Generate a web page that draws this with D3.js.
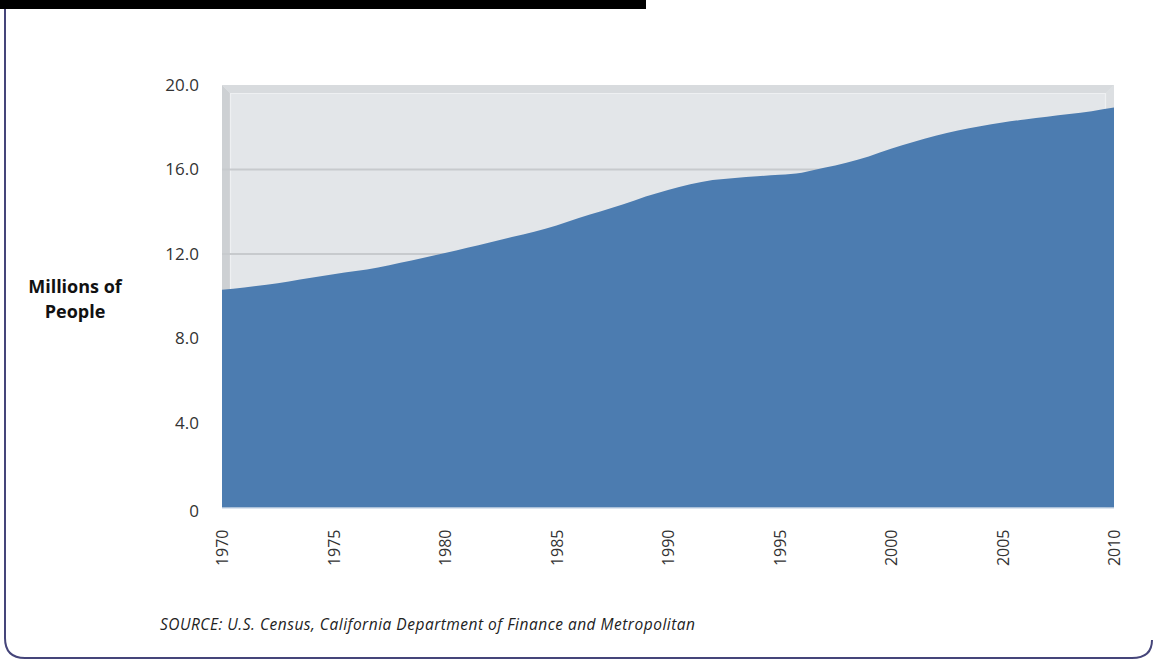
<!DOCTYPE html>
<html>
<head>
<meta charset="utf-8">
<script src="https://cdn.jsdelivr.net/npm/d3@7/dist/d3.min.js"></script>
<style>
  html, body { margin: 0; padding: 0; background: #ffffff; }
  svg { display: block; }
</style>
</head>
<body>
<svg id="chart" width="1154" height="660"></svg>
<script>
// ---- data ----
const years = [1970,1971,1972,1973,1974,1975,1976,1977,1978,1979,1980,1981,1982,1983,1984,1985,1986,1987,1988,1989,1990,1991,1992,1993,1994,1995,1996,1997,1998,1999,2000,2001,2002,2003,2004,2005,2006,2007,2008,2009,2010];
const population = [10.31,10.42,10.55,10.70,10.87,11.04,11.19,11.36,11.58,11.81,12.05,12.30,12.55,12.80,13.05,13.35,13.70,14.02,14.35,14.72,15.03,15.30,15.50,15.60,15.68,15.75,15.85,16.08,16.32,16.62,16.98,17.30,17.60,17.85,18.05,18.22,18.37,18.50,18.63,18.76,18.93];
const yTicks = [0, 4, 8, 12, 16, 20];
const yTickLabels = ["0", "4.0", "8.0", "12.0", "16.0", "20.0"];
const xTicks = [1970, 1975, 1980, 1985, 1990, 1995, 2000, 2005, 2010];
const yAxisTitle = ["Millions of", "People"];
const sourceText = "SOURCE: U.S. Census, California Department of Finance and Metropolitan";

const svg = d3.select("#chart");
const font = "'Open Sans', 'DejaVu Sans', sans-serif";

// page decoration
svg.append("rect").attr("x", 0).attr("y", 0).attr("width", 646).attr("height", 9).attr("fill", "#000");
svg.append("path")
  .attr("d", "M5,9 V638 Q5,658 25,658 H1132 Q1152,658 1152,640")
  .attr("fill", "none").attr("stroke", "#45457a").attr("stroke-width", 2);

const x = d3.scaleLinear().domain([1970, 2010]).range([222, 1114]);
const y = d3.scaleLinear().domain([0, 20]).range([507.5, 85]);

const L = x(1970), R = x(2010), T = y(20), B = y(0);
const d = 8.5;

// plot background with beveled frame
svg.append("rect").attr("x", L).attr("y", T).attr("width", R - L).attr("height", B - T).attr("fill", "#e3e6e9");
svg.append("path").attr("d", `M${L},${T} L${L+d},${T+d} L${L+d},${B} L${L},${B} Z`).attr("fill", "#cdd0d3");
svg.append("path").attr("d", `M${L},${T} L${R},${T} L${R-d},${T+d} L${L+d},${T+d} Z`).attr("fill", "#d8dbde");
svg.append("path").attr("d", `M${R},${T} L${R},${B} L${R-d},${B} L${R-d},${T+d} Z`).attr("fill", "#dcdfe2");
svg.append("path").attr("d", `M${L+d},${B} V${T+d} H${R-d} V${B}`).attr("fill", "none").attr("stroke", "#eef0f2").attr("stroke-width", 1.2);

// gridlines
svg.append("g").selectAll("line").data(yTicks.filter(v => v > 0 && v < 20)).join("line")
  .attr("x1", L).attr("x2", R)
  .attr("y1", v => y(v)).attr("y2", v => y(v))
  .attr("stroke", "#c7cacd").attr("stroke-width", 2);

// area
const data = years.map((yr, i) => ({ yr, v: population[i] }));
const area = d3.area().x(p => x(p.yr)).y0(B).y1(p => y(p.v)).curve(d3.curveMonotoneX);
svg.append("path").datum(data).attr("d", area).attr("fill", "#4c7cb0");
svg.append("line").attr("x1", L).attr("x2", R).attr("y1", B + 0.5).attr("y2", B + 0.5).attr("stroke", "#b9cbe0").attr("stroke-width", 1);

// y axis labels
const yAxis = d3.axisLeft(y).tickValues(yTicks).tickSize(0).tickPadding(0)
  .tickFormat((v, i) => yTickLabels[i]);
const gy = svg.append("g").attr("transform", "translate(199,0)").call(yAxis);
gy.select(".domain").remove();
gy.selectAll("text").attr("font-family", font).attr("font-size", 17).attr("fill", "#333").attr("dy", "0.32em");
gy.selectAll("text").filter(v => v === 0).attr("dy", "0.5em");

// x axis labels
const xAxis = d3.axisBottom(x).tickValues(xTicks).tickSize(0).tickFormat(d3.format("d"));
const gx = svg.append("g").attr("transform", `translate(0,${B})`).call(xAxis);
gx.select(".domain").remove();
gx.selectAll("text")
  .attr("font-family", font).attr("font-size", 16).attr("fill", "#333")
  .attr("transform", "rotate(-90)")
  .attr("text-anchor", "end")
  .attr("x", -22).attr("y", 0).attr("dy", "0.35em");

// y axis title
svg.append("text").attr("font-family", font).attr("font-weight", "bold").attr("font-size", 18)
  .attr("fill", "#111").attr("text-anchor", "middle")
  .selectAll("tspan").data(yAxisTitle).join("tspan")
  .attr("x", 75).attr("y", (t, i) => 293 + i * 25).text(t => t);

// source
svg.append("text").attr("x", 160).attr("y", 630)
  .attr("font-family", font).attr("font-style", "italic").attr("font-size", 15.5).attr("fill", "#222")
  .attr("textLength", 535).attr("lengthAdjust", "spacing")
  .text(sourceText);
</script>
</body>
</html>
